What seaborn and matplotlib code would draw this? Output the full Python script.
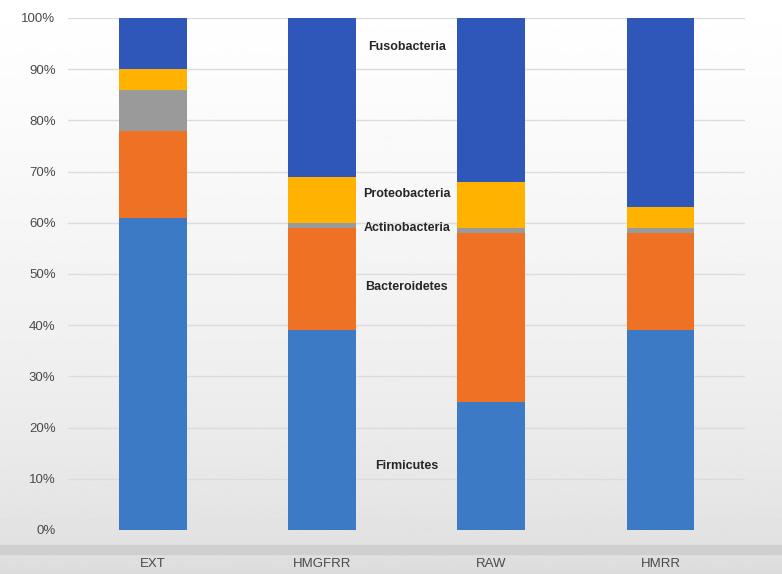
import numpy as np
import pandas as pd
import seaborn as sns
import matplotlib.pyplot as plt

# samples and phylum shares (%)
samples = ["EXT", "HMGFRR", "RAW", "HMRR"]
firmicutes = [61, 39, 25, 39]
bacteroidetes = [17, 20, 33, 19]
actinobacteria = [8, 1, 1, 1]
proteobacteria = [4, 9, 9, 4]
fusobacteria = [10, 31, 32, 37]

phyla = ["Firmicutes", "Bacteroidetes", "Actinobacteria", "Proteobacteria", "Fusobacteria"]
colors = ["#3c7ac6", "#ee7124", "#9a9a9a", "#ffb300", "#2f56b9"]
label_y = [12.5, 47.5, 59, 65.6, 94.3]

df = pd.DataFrame({"sample": samples, "Firmicutes": firmicutes,
                   "Bacteroidetes": bacteroidetes, "Actinobacteria": actinobacteria,
                   "Proteobacteria": proteobacteria, "Fusobacteria": fusobacteria})
cum = df[phyla].cumsum(axis=1)
cum["sample"] = df["sample"]

sns.set_style("white")
plt.rcParams["font.family"] = ["Liberation Sans", "DejaVu Sans"]

fig = plt.figure(figsize=(7.82, 5.74), dpi=100)

# light gradient background like the slide
bg = fig.add_axes([0, 0, 1, 1], zorder=-1)
grad = np.linspace(1, 0, 256).reshape(-1, 1)
bg.imshow(0.86 + 0.14 * grad ** 0.6, cmap="gray", vmin=0, vmax=1, aspect="auto",
          extent=[0, 1, 0, 1])
bg.axhspan(0.035, 0.05, color="#cfcfcf")
bg.set_axis_off()

ax = fig.add_axes([0.087, 0.0767, 0.866, 0.892])
ax.patch.set_alpha(0)

# stacked bars: draw cumulative totals from top layer down
for name, col in zip(phyla[::-1], colors[::-1]):
    sns.barplot(data=cum, x="sample", y=name, color=col, width=0.4,
                saturation=1, linewidth=0, ax=ax, zorder=3)

for name, y in zip(phyla, label_y):
    ax.text(1.5, y, name, ha="center", va="center", fontsize=9,
            fontweight="bold", color="#262626")

ax.set_ylim(0, 100)
ax.set_xlim(-0.5, 3.5)
ax.set_yticks(range(0, 101, 10))
ax.set_yticklabels([f"{v}%" for v in range(0, 101, 10)])
ax.yaxis.grid(True, color="#dcdcdc", linewidth=1, zorder=0)
ax.set_axisbelow(True)
ax.tick_params(axis="y", length=0, pad=9, labelsize=9.5, labelcolor="#4a4a4a")
ax.tick_params(axis="x", length=0, pad=20, labelsize=9.5, labelcolor="#4a4a4a")
ax.set_xlabel("")
ax.set_ylabel("")
sns.despine(ax=ax, left=True, bottom=True)

fig.savefig("out.png", dpi=100)
